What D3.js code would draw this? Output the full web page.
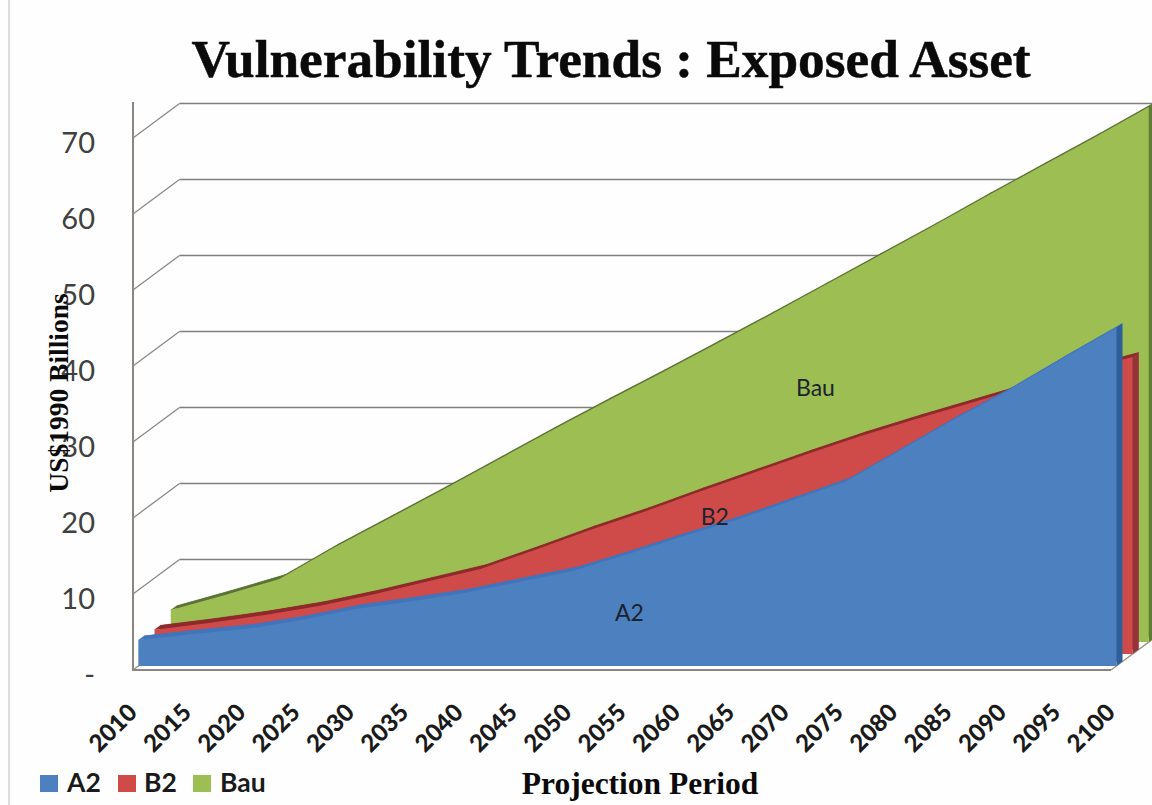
<!DOCTYPE html>
<html><head><meta charset="utf-8">
<script src="https://cdn.jsdelivr.net/npm/d3@7"></script>
<style>html,body{margin:0;padding:0;background:#fff}svg{display:block}</style>
</head><body><svg id="c" width="1152" height="805"></svg>
<script>
const years = [2010,2015,2020,2025,2030,2035,2040,2045,2050,2055,2060,2065,2070,2075,2080,2085,2090,2095,2100];
const a2Values  = [3.4,4.2,4.9,6.05,7.5,8.5,9.6,11.05,12.5,14.7,17,19.2,21.7,24.2,28.3,32.4,36.2,40.4,44.5];
const b2Values  = [3.2,4.1,5.1,6.3,7.8,9.5,11.2,13.7,16.3,18.7,21.3,23.8,26.3,28.7,30.9,33,35.1,37.2,39.1];
const bauValues = [4.2,6.2,8.3,12.4,16.2,20,23.9,27.8,31.6,35.3,39.1,42.9,46.8,50.7,54.6,58.6,62.5,66.4,70.4];
const yTicks = [0,10,20,30,40,50,60,70];
const seriesNames = ["A2","B2","Bau"];
const faceColors = ["#4c80bf","#cf4b49","#9cbe52"];
const topColors  = ["#4174ba","#8e2a2c","#5b7436"];
const sideColors = ["#2f5f98","#95323a","#5f7c34"];

const svg = d3.select("#c");
const W = 1152, H = 805;
const x = d3.scalePoint().domain(years).range([133,1111]);
const y = d3.scaleLinear().domain([0,70]).range([670,138]);
const depthX = d3.scaleLinear().domain([0,1]).range([0,16.2]);
const depthY = d3.scaleLinear().domain([0,1]).range([0,-12]);
const wallDepth = 2.87, layerDepth = [0.33,1.33,2.33], extrude = 0.37;
const allValues = [a2Values,b2Values,bauValues];

const axisColor = "#8b8682";
svg.append("rect").attr("width",W).attr("height",H).attr("fill","#fefefe");
svg.append("line").attr("x1",9).attr("x2",9).attr("y1",0).attr("y2",H).attr("stroke","#dcdcdc").attr("stroke-width",2);

// grid on the back wall and its side wall
const grid = svg.append("g");
yTicks.forEach(t=>{
  const bx0 = x(2010)+depthX(wallDepth), bx1 = x(2100)+depthX(wallDepth), by = y(t)+depthY(wallDepth);
  grid.append("line").attr("x1",bx0).attr("x2",bx1).attr("y1",by).attr("y2",by).attr("stroke","#7f7f7f").attr("stroke-width",1.6);
  grid.append("line").attr("x1",x(2010)).attr("x2",bx0).attr("y1",y(t)).attr("y2",by).attr("stroke","#8a8a8a").attr("stroke-width",1.3);
});
// floor edge
svg.append("line").attr("x1",x(2100)).attr("x2",x(2100)+depthX(wallDepth)).attr("y1",y(0)).attr("y2",y(0)+depthY(wallDepth)).attr("stroke","#9a8f88").attr("stroke-width",1.3);

// layered areas, back to front
const poly = d3.line();
[2,1,0].forEach(k=>{
  const vals = allValues[k], d0 = layerDepth[k], d1 = d0+extrude;
  const g = svg.append("g").attr("class","series-"+seriesNames[k]);
  const px = (yr,d)=>x(yr)+depthX(d), py = (v,d)=>y(v)+depthY(d);
  // back face
  g.append("path").attr("fill",topColors[k]).attr("d",
    d3.area().x((yr)=>px(yr,d1)).y0(py(0,d1)).y1((yr,i)=>py(vals[i],d1))(years));
  // top strip
  years.slice(1).forEach((yr,j)=>{
    const p = years[j];
    g.append("path").attr("fill",topColors[k]).attr("stroke",topColors[k]).attr("stroke-width",0.4).attr("d",poly([
      [px(p,d0),py(vals[j],d0)],[px(yr,d0),py(vals[j+1],d0)],
      [px(yr,d1),py(vals[j+1],d1)],[px(p,d1),py(vals[j],d1)]])+"Z");
  });
  // right side face
  g.append("path").attr("fill",sideColors[k]).attr("d",poly([
    [px(2100,d0),py(0,d0)],[px(2100,d0),py(vals[18],d0)],
    [px(2100,d1),py(vals[18],d1)],[px(2100,d1),py(0,d1)]])+"Z");
  // front face
  g.append("path").attr("fill",faceColors[k]).attr("d",
    d3.area().x((yr)=>px(yr,d0)).y0(py(0,d0)).y1((yr,i)=>py(vals[i],d0))(years));
});

// axes
svg.append("line").attr("x1",133).attr("x2",133).attr("y1",102).attr("y2",671).attr("stroke",axisColor).attr("stroke-width",2);
svg.append("line").attr("x1",133).attr("x2",x(2100)).attr("y1",670).attr("y2",670).attr("stroke",axisColor).attr("stroke-width",2);

const yAxis = svg.append("g").attr("transform","translate(133,5)")
  .call(d3.axisLeft(y).tickValues(yTicks).tickSize(0).tickPadding(38).tickFormat(d=>d===0?"-":String(d)));
yAxis.select(".domain").remove();
yAxis.selectAll("text").attr("font-family","Lato").attr("font-size",29).attr("fill","#404040").attr("dy","0.32em");

const xAxis = svg.append("g").attr("transform","translate(0,670)")
  .call(d3.axisBottom(x).tickSize(0));
xAxis.select(".domain").remove();
xAxis.selectAll("text").attr("font-family","Lato").attr("font-weight",900).attr("font-size",24).attr("fill","#1a1a1a")
  .attr("text-anchor","end").attr("x",0).attr("y",0).attr("dy",0).attr("transform","translate(5,44) rotate(-45)");

// titles
const serif = "'Liberation Serif'";
svg.append("text").attr("x",611).attr("y",77).attr("text-anchor","middle").attr("font-family",serif).attr("font-weight",700).attr("font-size",53.3).attr("fill","#0a0a0a").attr("stroke","#0a0a0a").attr("stroke-width",0.5).text("Vulnerability Trends : Exposed Asset");
svg.append("text").attr("x",640).attr("y",794).attr("text-anchor","middle").attr("font-family",serif).attr("font-weight",700).attr("font-size",31.5).attr("fill","#0a0a0a").text("Projection Period");
svg.append("text").attr("transform","translate(68,393) rotate(-90)").attr("text-anchor","middle").attr("font-family",serif).attr("font-weight",700).attr("font-size",27.5).attr("fill","#0a0a0a").text("US$1990 Billions");

// data labels
const labelAt = [[2055,6.5],[2065,19.1],[2070,36]];
const labelOffset = [-7,-30,11];
seriesNames.forEach((n,k)=>{
  svg.append("text").attr("x",x(labelAt[k][0])+labelOffset[k]).attr("y",y(labelAt[k][1]))
    .attr("font-family","Lato").attr("font-size",23).attr("fill","#1c2330").text(n);
});

// legend
const swX = [40,118,193], lbX = [67,144,220];
seriesNames.forEach((n,k)=>{
  svg.append("rect").attr("x",swX[k]).attr("y",775).attr("width",18).attr("height",17).attr("fill",faceColors[k]);
  svg.append("text").attr("x",lbX[k]).attr("y",792).attr("font-family","Lato").attr("font-weight",700).attr("font-size",26.5).attr("fill","#1a1a1a").text(n);
});
</script></body></html>
